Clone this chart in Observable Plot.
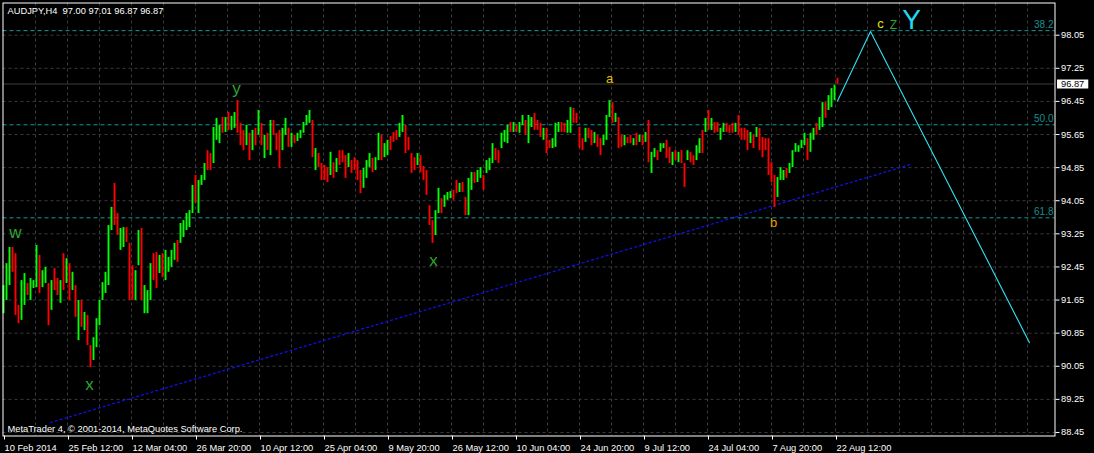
<!DOCTYPE html>
<html><head><meta charset="utf-8">
<script src="https://cdn.jsdelivr.net/npm/d3@7"></script>
<script src="https://cdn.jsdelivr.net/npm/@observablehq/plot@0.6"></script>
<style>
html,body{margin:0;padding:0;background:#000;}
#chart{width:1094px;height:453px;overflow:hidden;}
</style></head>
<body><div id="chart"></div>
<script>
// ---- data ----
const title = "AUDJPY,H4  97.00 97.01 96.87 96.87";
const copyright = "MetaTrader 4, \u00a9 2001-2014, MetaQuotes Software Corp.";

// H4 bars, one entry per 3 bars (range high/low of that group), starting 10 Feb 2014 00:00
const highs = [
92.00,92.53,92.92,92.92,92.77,91.52,92.12,92.29,92.05,92.17,
92.12,92.97,92.73,92.36,92.44,92.05,92.12,92.41,92.17,92.12,
92.77,92.65,92.53,92.32,92.00,91.64,91.64,91.35,91.28,90.55,
90.74,91.20,91.64,92.07,92.32,93.45,93.89,94.47,93.74,93.38,
93.40,93.40,93.02,92.48,92.36,93.33,93.38,92.00,91.88,92.53,
92.77,92.80,92.73,92.77,92.85,92.68,92.85,93.02,93.09,93.50,
93.57,93.74,93.81,94.42,94.66,94.54,94.66,94.95,95.26,95.19,
95.82,96.04,95.87,96.06,96.06,96.18,96.09,96.18,96.47,95.92,
95.75,95.87,95.68,95.75,95.80,96.23,95.92,95.63,95.68,95.99,
95.99,95.68,95.75,95.80,96.04,95.80,95.68,95.63,95.68,95.75,
95.94,96.11,96.23,95.99,95.31,95.19,94.95,94.90,94.85,95.22,
94.97,95.07,95.26,95.26,95.14,95.19,95.02,95.09,95.02,94.78,
94.83,95.02,95.19,95.07,95.09,95.68,95.63,95.43,95.51,95.60,
95.70,95.75,95.92,96.11,95.87,95.58,95.19,95.09,95.19,95.14,
94.88,94.78,93.93,93.57,93.81,94.35,94.10,94.18,94.25,94.27,
94.30,94.54,94.47,94.49,94.13,94.59,94.73,94.73,94.78,94.85,
94.66,95.02,95.07,95.43,95.31,95.26,95.68,95.75,95.87,95.94,
95.94,95.87,95.94,96.11,95.99,96.11,96.06,96.16,95.99,95.92,
95.80,95.80,95.51,95.55,95.92,95.94,95.94,95.92,95.99,96.30,
96.28,96.16,95.82,95.55,95.80,95.80,95.75,95.70,95.63,95.55,
95.63,96.11,96.47,96.42,96.16,96.06,95.63,95.63,95.58,95.63,
95.55,95.68,95.63,95.63,95.70,95.99,95.22,95.31,95.26,95.43,
95.43,95.51,95.34,95.22,95.26,95.22,95.26,94.95,95.26,95.22,
95.14,95.38,95.55,95.75,96.04,96.23,96.04,95.94,95.94,95.80,
95.92,95.92,95.87,95.92,95.92,96.11,95.80,95.80,95.75,95.70,
95.63,95.82,95.80,95.58,95.55,95.55,94.97,94.66,94.61,94.85,
94.78,94.83,94.95,95.26,95.43,95.38,95.51,95.68,95.55,95.68,
95.80,95.92,96.06,96.42,96.42,96.59,96.76,96.84,97.01];
const lows = [
91.32,91.64,92.00,92.32,91.28,91.08,91.16,91.52,91.76,91.64,
91.93,91.95,91.81,91.95,92.05,91.03,91.40,91.88,91.76,91.57,
91.88,92.05,91.64,91.88,91.23,90.67,90.99,90.91,90.55,90.02,
90.19,90.50,91.03,91.64,91.81,92.00,93.33,93.45,93.21,92.85,
92.92,93.04,91.64,91.64,91.64,92.48,91.64,91.32,91.32,91.64,
92.12,91.93,92.29,92.19,92.12,92.32,92.44,92.61,92.56,93.02,
93.16,93.33,93.40,93.74,93.98,93.74,94.42,94.54,94.78,94.78,
94.95,95.51,95.43,95.68,95.70,95.75,95.75,95.80,95.68,95.38,
95.26,95.38,95.02,95.26,95.38,95.63,95.38,95.07,95.26,95.14,
95.63,95.26,94.83,95.26,95.63,95.34,95.34,95.43,95.48,95.55,
95.68,95.87,95.92,95.09,94.78,94.85,94.54,94.54,94.49,94.66,
94.59,94.73,94.90,94.97,94.59,94.85,94.71,94.78,94.54,94.22,
94.35,94.59,94.85,94.73,94.78,95.02,95.02,95.09,95.14,95.26,
95.46,95.51,95.58,95.70,95.19,95.26,94.71,94.78,94.90,94.73,
94.54,94.18,93.45,93.02,93.21,93.74,93.74,93.89,94.06,94.10,
94.06,94.22,94.25,94.25,93.69,93.69,94.30,94.47,94.49,94.59,
94.30,94.71,94.78,94.95,95.02,94.95,95.31,95.46,95.43,95.70,
95.70,95.70,95.68,95.87,95.63,95.43,95.82,95.75,95.75,95.58,
95.51,95.19,95.31,95.31,95.34,95.70,95.70,95.70,95.68,95.68,
95.92,95.92,95.31,95.26,95.46,95.55,95.38,95.43,95.34,95.14,
95.38,95.51,96.06,95.92,95.94,95.31,95.34,95.38,95.43,95.43,
95.38,95.38,95.46,95.38,95.46,94.97,94.71,95.09,95.02,95.22,
95.31,95.07,94.95,94.90,95.02,94.97,94.95,94.37,95.02,94.97,
94.90,95.02,95.19,95.19,95.70,95.75,95.75,95.68,95.70,95.51,
95.70,95.70,95.68,95.68,95.70,95.63,95.51,95.51,95.26,95.43,
95.31,95.58,95.26,95.09,95.26,94.66,94.49,93.89,94.13,94.54,
94.54,94.59,94.71,94.85,95.22,95.22,95.31,95.38,95.02,95.22,
95.51,95.63,95.75,95.82,96.04,96.23,96.30,96.47,96.87];
// G = up bar, R = down bar
const dirs = (
"GGGRRRGGRG"+"GGRGGRGRRG"+"RGRGRGRGRR"+"GGGGGGGRRG"+"GRRRGGRGGG"+
"RRGRGGGGRG"+"GGGGRGGGRR"+"GGGRGRGGRR"+"RGRGRGRGRG"+"RRRGGRGRGG"+
"GGGRGRRRRG"+"RGRRRGRRRR"+"GGGRGGRGGR"+"RRGGRRRRGR"+"RRRRGGRGGG"+
"RRGRRGGRGG"+"RGGGRRGGGR"+"GRGGRGGRRR"+"GRRGGGRRGG"+"RRRRGRRGRR"+
"GGGRGRRGRR"+"GRGRGRGGRG"+"GRRGRGRRGR"+"RGGRGRGRRG"+"GRRRGRRRRG"+
"RGRRRRRRGG"+"GRGGGGGGRG"+"GRGGRGGGR").split("");

const priceTicks = [98.05,97.25,96.45,95.65,94.85,94.05,93.25,92.45,91.65,90.85,90.05,89.25,88.45];
const timeTickBars = [0,64,128,192,256,320,384,448,512,576,640,704,768,832];
const timeLabels = ["10 Feb 2014","25 Feb 12:00","12 Mar 04:00","26 Mar 20:00","10 Apr 12:00","25 Apr 04:00","9 May 20:00","26 May 12:00","10 Jun 04:00","24 Jun 20:00","9 Jul 12:00","24 Jul 04:00","7 Aug 20:00","22 Aug 12:00"];

const fibLabels = ["38.2","50.0","61.8"];
const fibPrices = [98.16, 95.885, 93.637];

const trendBars = [47, 909];
const trendPrices = [88.69, 94.94];

const projBars = [834, 867, 1026];
const projPrices = [96.46, 98.14, 90.62];

const waveLabels = ["w","x","y","x","a","b","c","Z","Y"];
const waveBars   = [12, 86, 233, 430, 606, 770, 877, 890, 908];
const wavePrices = [93.29, 89.60, 96.76, 92.60, 96.99, 93.52, 98.33, 98.30, 98.42];
const waveColors = ["#2ea52e","#2ea52e","#2ea52e","#2ea52e","#e6c000","#e6a000","#e6e600","#2ea52e","#22d8f0"];
const waveSizes  = [17, 17, 17, 17, 13, 13, 13, 12, 28];

const lastPrice = 96.87;

// ---- build ----
const barStep = 3;
const bars = highs.map((h, i) => ({bar: i * barStep, high: h, low: lows[i], dir: dirs[i]}));
const trend = trendBars.map((b, i) => ({bar: b, price: trendPrices[i]}));
const proj = projBars.map((b, i) => ({bar: b, price: projPrices[i]}));
const waves = waveLabels.map((t, i) => ({label: t, bar: waveBars[i], price: wavePrices[i], color: waveColors[i], size: waveSizes[i]}));
const gridBars = d3.range(32, 1051, 32);
const font = "'Liberation Sans', Arial, sans-serif";
const grid = "#3a3a3a";

const chart = Plot.plot({
  width: 1094, height: 453,
  marginLeft: 2.5, marginRight: 39.5, marginTop: 2.5, marginBottom: 17.5,
  style: {background: "#000", color: "#fff", fontFamily: font, fontSize: "9.3px"},
  x: {domain: [-0.5, 1051.5]},
  y: {domain: [88.365, 98.828]},
  color: {type: "identity"},
  marks: [
    Plot.ruleX(gridBars, {stroke: grid, strokeDasharray: "3,3"}),
    Plot.ruleY(priceTicks, {stroke: grid, strokeDasharray: "3,3"}),
    Plot.ruleY([lastPrice], {stroke: "#3c3c3c"}),
    Plot.ruleY(fibPrices, {stroke: "#119a9a", strokeDasharray: "4,3"}),
    Plot.text(fibLabels, {y: (d, i) => fibPrices[i], text: d => d, frameAnchor: "right", textAnchor: "end", dx: -1.5, dy: -6, fill: "#1a8f8f", fontSize: 10}),
    Plot.line(trend, {x: "bar", y: "price", stroke: "#1010ff", strokeWidth: 1.2, strokeDasharray: "2,3"}),
    Plot.ruleX(bars, {filter: d => d.dir === "G", x: "bar", y1: "low", y2: "high", stroke: "#00ff00", strokeWidth: 1.9}),
    Plot.ruleX(bars, {filter: d => d.dir === "R", x: "bar", y1: "low", y2: "high", stroke: "#ff0000", strokeWidth: 1.9}),
    Plot.line(proj, {x: "bar", y: "price", stroke: "#33e0f0", strokeWidth: 1.1}),
    Plot.text(waves, {x: "bar", y: "price", text: "label", fill: "color", fontSize: "size", fontFamily: font}),
    Plot.frame({stroke: "#fff"}),
    Plot.axisX(timeTickBars, {tickFormat: d => timeLabels[timeTickBars.indexOf(d)], textAnchor: "start", dx: 1, tickSize: 4, tickPadding: 4, stroke: "#fff", fill: "#fff", label: null}),
    Plot.axisY(priceTicks, {anchor: "right", tickFormat: d => d.toFixed(2), tickSize: 4, tickPadding: 2, stroke: "#fff", fill: "#fff", label: null}),
    Plot.text([lastPrice], {y: d => d, text: d => d.toFixed(2), frameAnchor: "right", textAnchor: "start", dx: 6, fill: "#000"}),
    Plot.text([title], {frameAnchor: "top-left", lineAnchor: "middle", dx: 4.5, dy: 8.2, fill: "#fff"}),
    Plot.text([copyright], {frameAnchor: "bottom-left", lineAnchor: "middle", dx: 4.5, dy: -7, fill: "#fff"})
  ]
});
document.getElementById("chart").appendChild(chart);

// white box behind the current-price tag
const tagText = lastPrice.toFixed(2);
const tag = Array.from(chart.querySelectorAll("text")).find(t => t.textContent.trim() === tagText);
if (tag) {
  const bb = tag.getBBox();
  const r = document.createElementNS("http://www.w3.org/2000/svg", "rect");
  r.setAttribute("x", bb.x - 4);
  r.setAttribute("y", bb.y + 0.5);
  r.setAttribute("width", bb.width + 8);
  r.setAttribute("height", bb.height - 1);
  r.setAttribute("fill", "#fff");
  if (tag.getAttribute("transform")) r.setAttribute("transform", tag.getAttribute("transform"));
  tag.parentNode.insertBefore(r, tag);
}
</script>
</body></html>
